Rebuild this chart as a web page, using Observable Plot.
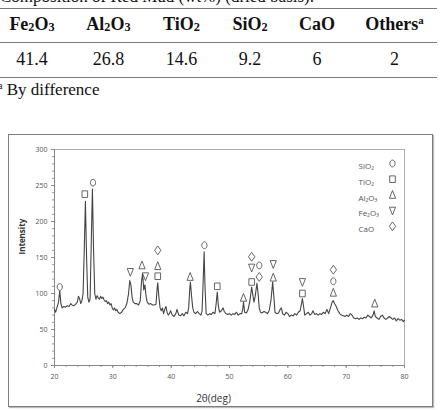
<!DOCTYPE html>
<html><head><meta charset="utf-8">
<script src="https://cdn.jsdelivr.net/npm/d3@7"></script>
<script src="https://cdn.jsdelivr.net/npm/@observablehq/plot@0.6"></script>
<style>
html,body{margin:0;padding:0;background:#fff;}
body{width:440px;height:410px;overflow:hidden;position:relative;font-family:"Liberation Serif","Times New Roman",serif;color:#111;}
#title{position:absolute;left:0;top:-12px;font-size:17px;line-height:1;white-space:nowrap;}
.rule{position:absolute;left:0;width:437px;height:0;border-top:1.5px solid #7a7a7a;}
.cell{position:absolute;font-size:18px;line-height:1;white-space:nowrap;transform:translateX(-50%);}
.head{font-weight:bold;}
.cell sub{font-size:0.68em;vertical-align:-0.05em;line-height:0;}
.cell sup{font-size:0.6em;vertical-align:0.55em;line-height:0;}
#foot{position:absolute;left:-2px;top:81px;font-size:17px;line-height:1;white-space:nowrap;}
#foot sup{font-size:0.6em;vertical-align:0.55em;line-height:0;}
#frame{position:absolute;left:8px;top:134px;width:423px;height:271px;border:1.5px solid #7d7d7d;box-shadow:1px 1px 1px #bbb;pointer-events:none;}
#chart{position:absolute;left:8px;top:134px;}
</style>
</head><body>
<div id="title">Composition of Red Mud (wt%) (dried basis).</div>
<div class="rule" style="top:8px"></div>
<div class="rule" style="top:42px"></div>
<div class="rule" style="top:77px"></div>
<div id="foot"><sup>a</sup> By difference</div>
<div id="chart"></div>
<div id="frame"></div>
<script>
// ---- table data ----
const oxides = ["Fe2O3", "Al2O3", "TiO2", "SiO2", "CaO", "Others"];
const oxideNotes = ["", "", "", "", "", "a"];
const wtPercent = [41.4, 26.8, 14.6, 9.2, 6, 2];

// ---- XRD pattern (2θ in degrees, intensity) ----
const twoTheta = [20.0,20.2,20.4,20.7,20.9,21.1,21.3,21.6,21.9,22.2,22.5,22.8,23.0,23.3,23.6,23.9,24.1,24.3,24.5,24.7,24.9,25.1,25.3,25.5,25.7,25.9,26.1,26.3,26.5,26.7,26.9,27.1,27.3,27.5,27.7,27.9,28.1,28.3,28.5,28.7,28.9,29.1,29.3,29.5,29.7,29.9,30.1,30.3,30.5,30.7,30.9,31.2,31.5,31.8,32.1,32.4,32.7,32.9,33.1,33.3,33.5,33.8,34.1,34.4,34.7,34.9,35.1,35.3,35.5,35.7,35.9,36.2,36.5,36.8,37.1,37.4,37.6,37.7,37.9,38.1,38.3,38.5,38.7,38.9,39.1,39.3,39.5,39.7,39.9,40.2,40.5,40.8,41.0,41.3,41.6,41.9,42.2,42.5,42.8,43.0,43.2,43.3,43.5,43.7,43.9,44.2,44.5,44.8,45.1,45.3,45.5,45.65,45.8,46.0,46.3,46.6,46.9,47.2,47.5,47.7,47.9,48.1,48.3,48.6,48.9,49.1,49.4,49.7,50.0,50.3,50.6,50.9,51.2,51.5,51.8,52.1,52.3,52.4,52.6,52.9,53.2,53.5,53.8,54.0,54.2,54.4,54.7,54.9,55.1,55.3,55.6,55.9,56.2,56.5,56.8,57.1,57.4,57.6,57.8,58.1,58.4,58.7,58.9,59.1,59.4,59.7,60.0,60.3,60.6,60.9,61.2,61.5,61.8,62.1,62.3,62.5,62.7,62.9,63.2,63.5,63.8,64.1,64.3,64.6,64.9,65.2,65.5,65.8,66.1,66.4,66.7,67.0,67.3,67.6,67.8,68.0,68.3,68.6,68.9,69.2,69.5,69.8,70.1,70.4,70.7,71.0,71.3,71.6,71.9,72.2,72.5,72.8,73.1,73.4,73.7,74.0,74.3,74.6,74.8,75.0,75.3,75.6,75.9,76.2,76.5,76.8,77.1,77.4,77.7,78.0,78.3,78.6,78.9,79.2,79.5,79.8,80.0];
const intensity = [78,74,80,88,104,86,80,82,81,83,82,86,84,83,85,88,96,93,86,90,100,160,228,150,95,88,92,170,245,160,100,92,97,94,92,96,93,95,91,89,90,86,88,84,86,80,77,80,76,78,74,72,74,78,80,86,100,118,112,95,88,86,86,84,90,115,128,105,112,96,88,85,86,84,84,85,108,115,95,80,76,80,72,78,82,74,70,72,76,70,68,72,78,70,69,72,69,74,72,80,108,116,96,80,74,72,75,72,70,76,120,158,110,72,70,72,71,74,72,85,102,82,74,76,80,75,72,71,72,70,72,71,74,70,72,72,80,88,74,73,78,90,109,98,88,96,114,100,80,74,73,75,74,72,76,90,116,96,74,72,73,78,80,72,70,74,72,68,70,69,72,70,74,76,84,93,82,70,72,74,70,72,76,71,72,70,72,71,74,72,78,72,80,88,90,86,82,76,72,70,69,68,70,68,72,70,66,65,66,64,66,65,67,66,70,68,66,70,76,68,66,64,68,70,66,64,66,68,66,64,66,62,65,63,64,61,63];

// ---- phase markers: [2θ, intensity] ----
const sio2Marks  = [[20.9,109],[26.6,254],[45.7,167],[55.1,139],[67.8,117]];
const tio2Marks  = [[25.2,238],[37.7,124],[47.9,110],[53.8,116],[62.5,100]];
const al2o3Marks = [[35.0,139],[37.7,138],[43.25,123],[52.4,94],[57.5,122],[67.8,101],[74.9,86]];
const fe2o3Marks = [[33.0,130],[35.6,124],[53.8,136],[57.5,141],[62.5,116]];
const caoMarks   = [[37.7,160],[53.8,151],[55.1,123],[67.8,133]];

const legendNames = ["SiO₂", "TiO₂", "Al₂O₃", "Fe₂O₃", "CaO"];
const xTicks = [20, 30, 40, 50, 60, 70, 80];
const yTicks = [0, 50, 100, 150, 200, 250, 300];

// ---- table ----
const colCenters = [32, 108.5, 181.5, 250, 317, 394.5];
const subs = s => s.replace(/(\d)/g, "<sub>$1</sub>");
oxides.forEach((name, i) => {
  const h = document.createElement("div");
  h.className = "cell head";
  h.style.left = colCenters[i] + "px";
  h.style.top = "15px";
  h.innerHTML = subs(name) + (oxideNotes[i] ? "<sup>" + oxideNotes[i] + "</sup>" : "");
  document.body.appendChild(h);
  const v = document.createElement("div");
  v.className = "cell";
  v.style.left = colCenters[i] + "px";
  v.style.top = "50px";
  v.textContent = String(wtPercent[i]);
  document.body.appendChild(v);
});

// ---- custom symbols (fixed size, slightly tall like the original glyphs) ----
const symCircle = {draw(c){const rx=2.6, ry=3.4, k=0.5523;
  c.moveTo(0,-ry);
  c.bezierCurveTo(rx*k,-ry,rx,-ry*k,rx,0);
  c.bezierCurveTo(rx,ry*k,rx*k,ry,0,ry);
  c.bezierCurveTo(-rx*k,ry,-rx,ry*k,-rx,0);
  c.bezierCurveTo(-rx,-ry*k,-rx*k,-ry,0,-ry);
  c.closePath();}};
const symSquare = {draw(c){c.moveTo(-2.8,-3.3);c.lineTo(2.8,-3.3);c.lineTo(2.8,3.3);c.lineTo(-2.8,3.3);c.closePath();}};
const symTriUp = {draw(c){c.moveTo(0,-4.4);c.lineTo(3.1,3.4);c.lineTo(-3.1,3.4);c.closePath();}};
const symTriDown = {draw(c){c.moveTo(0,4.4);c.lineTo(3.1,-3.4);c.lineTo(-3.1,-3.4);c.closePath();}};
const symDiamond = {draw(c){c.moveTo(0,-4.4);c.lineTo(3.2,0);c.lineTo(0,4.4);c.lineTo(-3.2,0);c.closePath();}};

const phaseSets = [sio2Marks, tio2Marks, al2o3Marks, fe2o3Marks, caoMarks];
const phaseSyms = [symCircle, symSquare, symTriUp, symTriDown, symDiamond];

const pattern = twoTheta.map((t, i) => ({t, I: intensity[i]}));
const mk = "#555";

const markerMarks = phaseSets.map((set, k) =>
  Plot.dot(set, {x: d => d[0], y: d => d[1], symbol: phaseSyms[k], r: 3, stroke: mk, strokeWidth: 0.9, fill: "white"}));

const legendMarks = legendNames.flatMap((name, i) => [
  Plot.text([name], {frameAnchor: "top-left", dx: 304, dy: 14 + i * 15.7, text: d => d, textAnchor: "start", fontSize: 8, fill: "#555"}),
  Plot.dot([0], {frameAnchor: "top-left", dx: 338, dy: 14 + i * 15.7, symbol: phaseSyms[i], r: 3, stroke: mk, strokeWidth: 0.9, fill: "white"})
]);

const chart = Plot.plot({
  width: 425,
  height: 273,
  marginLeft: 46,
  marginRight: 29,
  marginTop: 15,
  marginBottom: 42,
  style: {fontFamily: "'Open Sans', 'Noto Sans', sans-serif", fontSize: "7px", color: "#555", background: "transparent"},
  x: {domain: [20, 80]},
  y: {domain: [0, 300]},
  marks: [
    Plot.frame({stroke: "#b0b0b0", strokeWidth: 1}),
    Plot.axisY({ticks: d3.range(0, 301, 10), tickSize: 2, text: null, label: null, stroke: "#999"}),
    Plot.axisY({ticks: yTicks, tickSize: 3, tickPadding: 4, label: null, stroke: "#888", fill: "#555"}),
    Plot.axisX({ticks: d3.range(20, 81, 2), tickSize: 2, text: null, label: null, stroke: "#999"}),
    Plot.axisX({ticks: xTicks, tickSize: 3, tickPadding: 6, label: null, stroke: "#888", fill: "#555"}),
    Plot.ruleX([20], {stroke: "#888"}),
    Plot.ruleY([0], {stroke: "#888"}),
    Plot.line(pattern, {x: "t", y: "I", stroke: "#454545", strokeWidth: 1.1, curve: "linear"}),
    ...markerMarks,
    ...legendMarks,
    Plot.text(["Intensity"], {frameAnchor: "left", dx: -32, dy: -3, rotate: -90, text: d => d, fontWeight: "bold", fontSize: 8, fill: "#333"}),
    Plot.text(["2θ(deg)"], {frameAnchor: "bottom", dx: -16, dy: 36, text: d => d, fontSize: 10, fill: "#333"})
  ]
});
document.getElementById("chart").appendChild(chart);
</script>
</body></html>
